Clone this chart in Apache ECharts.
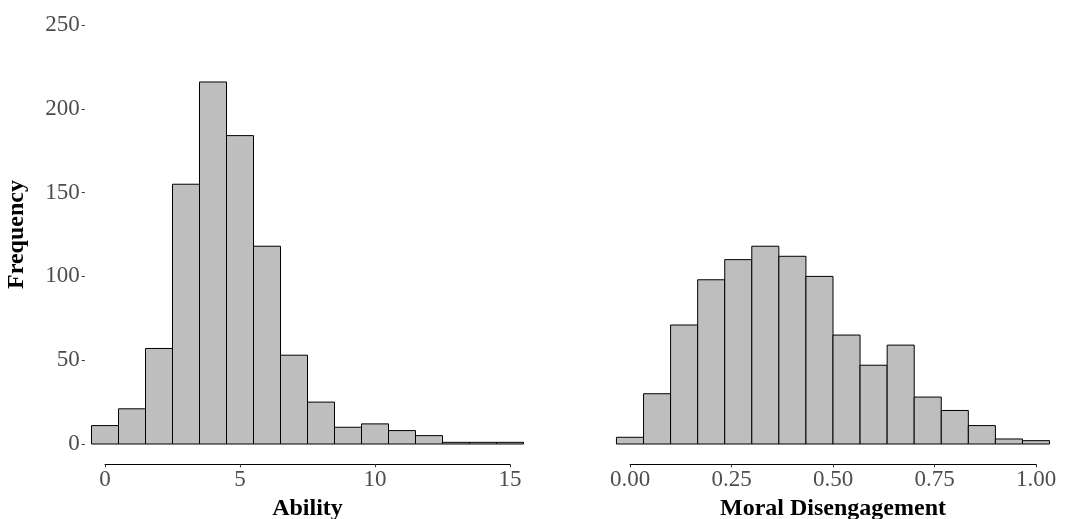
<!DOCTYPE html>
<html>
<head>
<meta charset="utf-8">
<title>Ability and Moral Disengagement</title>
<script src="https://cdn.jsdelivr.net/npm/echarts@6/dist/echarts.min.js"></script>
<style>
  html, body { margin: 0; padding: 0; background: #ffffff; }
  #chart { width: 1066px; height: 519px; }
</style>
</head>
<body>
<div id="chart"></div>
<script>
// Histogram bins: centre of each bin and its count
const abilityCenters = [0, 1, 2, 3, 4, 5, 6, 7, 8, 9, 10, 11, 12, 13, 14, 15];
const abilityCounts  = [11, 21, 57, 155, 216, 184, 118, 53, 25, 10, 12, 8, 5, 1, 1, 1];
const abilityBinWidth = 1;

const moralCenters = [0, 0.0667, 0.1333, 0.2, 0.2667, 0.3333, 0.4, 0.4667,
                      0.5333, 0.6, 0.6667, 0.7333, 0.8, 0.8667, 0.9333, 1];
const moralCounts  = [4, 30, 71, 98, 110, 118, 112, 100, 65, 47, 59, 28, 20, 11, 3, 2];
const moralBinWidth = 1 / 15;

const freqTicks    = [0, 50, 100, 150, 200, 250];
const abilityTicks = [0, 5, 10, 15];
const moralTicks   = [0, 0.25, 0.5, 0.75, 1];

const FONT = '"Liberation Serif", "Times New Roman", serif';
const TICK_COLOR = '#4d4d4d';

// pixel scale of each panel
const abilityPx = 27, abilityZeroX = 105;
const moralPx = 406, moralZeroX = 630;
const plotTop = 25, plotBottom = 444;
const axisY = 465;

function histItem(binWidth) {
  return function (params, api) {
    const c = api.value(0), n = api.value(1);
    const p0 = api.coord([c - binWidth / 2, n]);
    const p1 = api.coord([c + binWidth / 2, 0]);
    return {
      type: 'rect',
      shape: { x: p0[0], y: p0[1], width: p1[0] - p0[0], height: p1[1] - p0[1] },
      style: { fill: '#bebebe', stroke: '#000000', lineWidth: 1 }
    };
  };
}

const aMin = -0.75, aMax = 16;
const mMin = -0.05, mMax = 1.07;

const hidden = { show: false };
const titleStyle = { fontFamily: FONT, fontWeight: 'bold', fontSize: 24, color: '#000000' };
const labelStyle = { fontFamily: FONT, fontSize: 23, color: TICK_COLOR };

const chart = echarts.init(document.getElementById('chart'), null, { renderer: 'canvas' });
chart.setOption({
  animation: false,
  backgroundColor: '#ffffff',
  grid: [
    { left: abilityZeroX + aMin * abilityPx, top: plotTop,
      width: (aMax - aMin) * abilityPx, height: plotBottom - plotTop },
    { left: moralZeroX + mMin * moralPx, top: plotTop,
      width: (mMax - mMin) * moralPx, height: plotBottom - plotTop },
    { left: abilityZeroX, top: axisY - 1, width: 15 * abilityPx, height: 1 },
    { left: moralZeroX, top: axisY - 1, width: moralPx, height: 1 }
  ],
  xAxis: [
    { gridIndex: 0, type: 'value', min: aMin, max: aMax,
      axisLine: hidden, axisTick: hidden, axisLabel: hidden, splitLine: hidden },
    { gridIndex: 1, type: 'value', min: mMin, max: mMax,
      axisLine: hidden, axisTick: hidden, axisLabel: hidden, splitLine: hidden },
    { gridIndex: 2, type: 'value', position: 'bottom',
      min: abilityTicks[0], max: abilityTicks[abilityTicks.length - 1], interval: 5,
      axisLine: { onZero: false, lineStyle: { color: '#000000', width: 1 } },
      axisTick: { length: 3, lineStyle: { color: '#333333' } },
      axisLabel: Object.assign({ margin: 4 }, labelStyle),
      splitLine: hidden,
      name: 'Ability', nameLocation: 'middle', nameGap: 33, nameMoveOverlap: false,
      nameTextStyle: titleStyle },
    { gridIndex: 3, type: 'value', position: 'bottom',
      min: moralTicks[0], max: moralTicks[moralTicks.length - 1], interval: 0.25,
      axisLine: { onZero: false, lineStyle: { color: '#000000', width: 1 } },
      axisTick: { length: 3, lineStyle: { color: '#333333' } },
      axisLabel: Object.assign({ margin: 4, formatter: v => v.toFixed(2) }, labelStyle),
      splitLine: hidden,
      name: 'Moral Disengagement', nameLocation: 'middle', nameGap: 33, nameMoveOverlap: false,
      nameTextStyle: titleStyle }
  ],
  yAxis: [
    { gridIndex: 0, type: 'value', min: freqTicks[0], max: freqTicks[freqTicks.length - 1], interval: 50,
      axisLine: { show: false, onZero: false },
      axisTick: { show: true, length: 3, lineStyle: { color: '#333333' } },
      axisLabel: Object.assign({ margin: 5 }, labelStyle),
      splitLine: hidden,
      name: 'Frequency', nameLocation: 'middle', nameGap: 56, nameMoveOverlap: false,
      nameTextStyle: titleStyle },
    { gridIndex: 1, type: 'value', min: freqTicks[0], max: freqTicks[freqTicks.length - 1], interval: 50,
      axisLine: { show: false, onZero: false }, axisTick: hidden, axisLabel: hidden, splitLine: hidden },
    { gridIndex: 2, type: 'value', min: 0, max: 1, show: false },
    { gridIndex: 3, type: 'value', min: 0, max: 1, show: false }
  ],
  series: [
    { type: 'custom', xAxisIndex: 0, yAxisIndex: 0, renderItem: histItem(abilityBinWidth),
      data: abilityCenters.map((c, i) => [c, abilityCounts[i]]) },
    { type: 'custom', xAxisIndex: 1, yAxisIndex: 1, renderItem: histItem(moralBinWidth),
      data: moralCenters.map((c, i) => [c, moralCounts[i]]) }
  ]
});
</script>
</body>
</html>
